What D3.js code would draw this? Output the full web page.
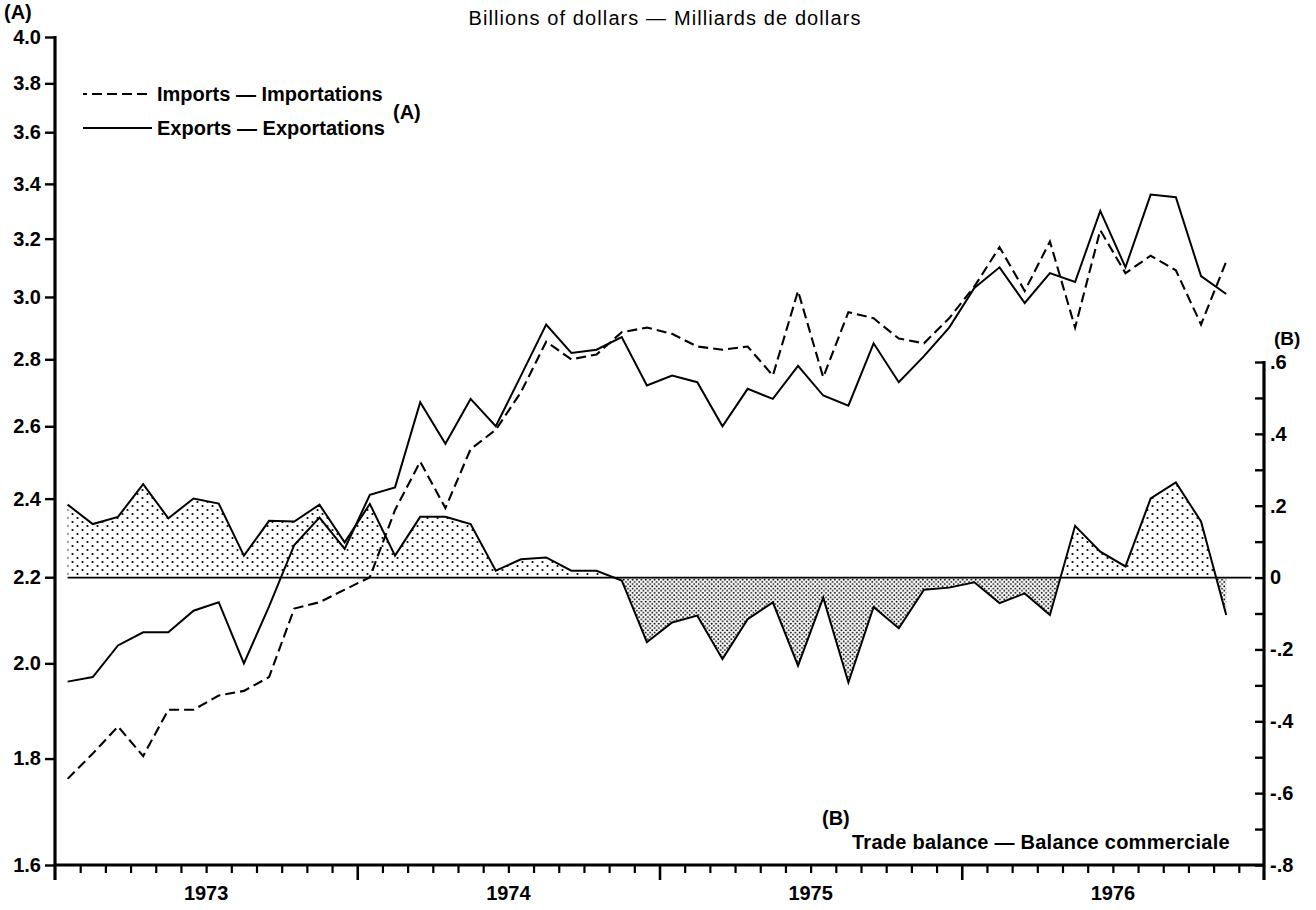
<!DOCTYPE html>
<html><head><meta charset="utf-8">
<script src="https://cdn.jsdelivr.net/npm/d3@7/dist/d3.min.js"></script>
<style>
body{margin:0;background:#fff}
text{font-family:"Liberation Sans",Arial,Helvetica,sans-serif;fill:#000}
</style>
</head><body>
<svg id="c" width="1316" height="910"></svg>
<script>
// ---- categories (months) ----
const months = [
 "1973-01","1973-02","1973-03","1973-04","1973-05","1973-06","1973-07","1973-08","1973-09","1973-10","1973-11","1973-12",
 "1974-01","1974-02","1974-03","1974-04","1974-05","1974-06","1974-07","1974-08","1974-09","1974-10","1974-11","1974-12",
 "1975-01","1975-02","1975-03","1975-04","1975-05","1975-06","1975-07","1975-08","1975-09","1975-10","1975-11","1975-12",
 "1976-01","1976-02","1976-03","1976-04","1976-05","1976-06","1976-07","1976-08","1976-09","1976-10","1976-11","1976-12"];
const yearLabels = ["1973","1974","1975","1976"];

// ---- series (billions of dollars), Jan 1973 .. Nov 1976 ----
const exportsA = [1.96,1.97,2.04,2.07,2.07,2.12,2.14,2.00,2.13,2.28,2.35,2.27,
                  2.41,2.43,2.67,2.55,2.68,2.60,2.75,2.91,2.82,2.83,2.87,2.72,
                  2.75,2.73,2.60,2.71,2.68,2.78,2.69,2.66,2.85,2.73,2.81,2.90,
                  3.03,3.10,2.98,3.08,3.05,3.30,3.10,3.36,3.35,3.07,3.01];
const importsA = [1.76,1.81,1.865,1.805,1.90,1.90,1.93,1.94,1.97,2.125,2.14,2.17,
                  2.20,2.37,2.50,2.375,2.535,2.59,2.70,2.855,2.80,2.815,2.885,2.90,
                  2.88,2.84,2.83,2.84,2.75,3.02,2.745,2.95,2.93,2.865,2.85,2.93,
                  3.035,3.17,3.02,3.19,2.90,3.23,3.08,3.14,3.09,2.91,3.12];
const balanceB = [0.203,0.149,0.169,0.260,0.165,0.220,0.206,0.061,0.158,0.156,0.203,0.098,
                  0.205,0.061,0.169,0.169,0.149,0.019,0.051,0.056,0.019,0.019,-0.008,-0.180,
                  -0.125,-0.106,-0.227,-0.116,-0.069,-0.245,-0.056,-0.292,-0.082,-0.141,-0.034,-0.028,
                  -0.013,-0.071,-0.044,-0.104,0.144,0.072,0.031,0.220,0.265,0.156,-0.104];

// ---- tick values / labels ----
const leftTicks = [1.6,1.8,2.0,2.2,2.4,2.6,2.8,3.0,3.2,3.4,3.6,3.8,4.0];
const rightTicks = [-0.8,-0.7,-0.6,-0.5,-0.4,-0.3,-0.2,-0.1,0,0.1,0.2,0.3,0.4,0.5,0.6];
const rightLabelVals = [-0.8,-0.6,-0.4,-0.2,0,0.2,0.4,0.6];
const rightLabels = ["-.8","-.6","-.4","-.2","0",".2",".4",".6"];

const svg = d3.select("#c");
svg.append("rect").attr("width",1316).attr("height",910).attr("fill","#fff");

const L = 55, R = 1264, B = 865;
const xBand = d3.scaleBand().domain(months).range([L, R]).padding(0);
const xIdx = d3.scaleLinear().domain([0, months.length]).range([L, R]);
const bw = xBand.bandwidth();
const xm = i => xBand(months[i]) + bw/2;
const yA = d3.scaleLog().domain([1.6, 4.0]).range([B, 37]);
const yB = d3.scaleLinear().domain([-0.8, 0.6]).range([B, 362]);

// patterns
const defs = svg.append("defs");
const pPos = defs.append("pattern").attr("id","pos").attr("patternUnits","userSpaceOnUse")
  .attr("width",10).attr("height",8);
pPos.append("circle").attr("cx",2.5).attr("cy",2).attr("r",1.1).attr("fill","#000");
pPos.append("circle").attr("cx",7.5).attr("cy",6).attr("r",1.1).attr("fill","#000");
const pNeg = defs.append("pattern").attr("id","neg").attr("patternUnits","userSpaceOnUse")
  .attr("width",4.4).attr("height",4.4);
pNeg.append("circle").attr("cx",1.1).attr("cy",1.1).attr("r",0.95).attr("fill","#000");
pNeg.append("circle").attr("cx",3.3).attr("cy",3.3).attr("r",0.95).attr("fill","#000");
defs.append("clipPath").attr("id","clipPos").append("rect")
  .attr("x",0).attr("y",0).attr("width",1316).attr("height",yB(0));
defs.append("clipPath").attr("id","clipNeg").append("rect")
  .attr("x",0).attr("y",yB(0)).attr("width",1316).attr("height",910-yB(0));

// balance area
const area = d3.area().x((d,i)=>xm(i)).y0(yB(0)).y1(d=>yB(d));
svg.append("path").datum(balanceB).attr("d",area).attr("fill","url(#pos)").attr("clip-path","url(#clipPos)");
svg.append("path").datum(balanceB).attr("d",area).attr("fill","url(#neg)").attr("clip-path","url(#clipNeg)");

// zero line
svg.append("line").attr("x1",xm(0)).attr("x2",xm(months.length-1))
  .attr("y1",yB(0)).attr("y2",yB(0)).attr("stroke","#000").attr("stroke-width",1.8);

// balance line
const lineB = d3.line().x((d,i)=>xm(i)).y(d=>yB(d));
svg.append("path").datum(balanceB).attr("d",lineB).attr("fill","none")
  .attr("stroke","#000").attr("stroke-width",2);

// exports / imports lines
const lineA = d3.line().x((d,i)=>xm(i)).y(d=>yA(d));
svg.append("path").datum(exportsA).attr("d",lineA).attr("fill","none")
  .attr("stroke","#000").attr("stroke-width",2);
svg.append("path").datum(importsA).attr("d",lineA).attr("fill","none")
  .attr("stroke","#000").attr("stroke-width",2.1).attr("stroke-dasharray","10,5");

// left axis
const gL = svg.append("g").attr("transform",`translate(${L},0)`)
  .call(d3.axisLeft(yA).tickValues(leftTicks).tickFormat(d3.format(".1f")).tickSize(10).tickPadding(4));
gL.select(".domain").remove();
gL.selectAll(".tick line").attr("stroke","#000").attr("stroke-width",2.4);
gL.selectAll(".tick text").style("font-size","20px").style("font-weight","bold").attr("fill","#000");
svg.append("line").attr("x1",L).attr("x2",L).attr("y1",yA(4.0)-1).attr("y2",B+15)
  .attr("stroke","#000").attr("stroke-width",3.2);

// right axis
const gR = svg.append("g").attr("transform",`translate(${R},0)`)
  .call(d3.axisRight(yB).tickValues(rightTicks).tickSizeInner(-9).tickSizeOuter(0).tickPadding(6)
    .tickFormat(d=>{const k=rightLabelVals.findIndex(v=>Math.abs(v-d)<1e-6);return k>=0?rightLabels[k]:"";}));
gR.select(".domain").remove();
gR.selectAll(".tick line").attr("stroke","#000").attr("stroke-width",2.4);
gR.selectAll(".tick text").style("font-size","20px").style("font-weight","bold").attr("fill","#000");
svg.append("line").attr("x1",R).attr("x2",R).attr("y1",yB(0.6)-1).attr("y2",B+15)
  .attr("stroke","#000").attr("stroke-width",3.2);

// bottom axis: month ticks and year ticks
const monthTicks = d3.range(1, months.length).filter(i=>i%12!==0);
const yearTicks = d3.range(12, months.length, 12);
const gB1 = svg.append("g").attr("transform",`translate(0,${B})`)
  .call(d3.axisBottom(xIdx).tickValues(monthTicks).tickFormat("").tickSize(8).tickSizeOuter(0));
gB1.select(".domain").remove();
gB1.selectAll(".tick line").attr("stroke","#000").attr("stroke-width",2.2);
const gB2 = svg.append("g").attr("transform",`translate(0,${B})`)
  .call(d3.axisBottom(xIdx).tickValues(yearTicks).tickFormat("").tickSize(15).tickSizeOuter(0));
gB2.select(".domain").remove();
gB2.selectAll(".tick line").attr("stroke","#000").attr("stroke-width",2.6);
svg.append("line").attr("x1",L).attr("x2",R).attr("y1",B).attr("y2",B)
  .attr("stroke","#000").attr("stroke-width",2.8);
svg.append("g").selectAll("text").data(yearLabels).join("text")
  .attr("x",(d,i)=>xIdx(i*12+6)).attr("y",900).attr("text-anchor","middle")
  .style("font-size","20px").style("font-weight","bold").text(d=>d);

// titles and labels
svg.append("text").attr("x",665).attr("y",25).attr("text-anchor","middle")
  .style("font-size","20px").style("letter-spacing","1.1px").text("Billions of dollars — Milliards de dollars");
svg.append("text").attr("x",4).attr("y",19).style("font-size","20px").style("font-weight","bold").text("(A)");
svg.append("text").attr("x",1274).attr("y",345).style("font-size","19px").style("font-weight","bold").text("(B)");

// legend
const legY = [94, 128];
svg.append("line").attr("x1",83).attr("x2",152).attr("y1",legY[0]).attr("y2",legY[0])
  .attr("stroke","#000").attr("stroke-width",2.1).attr("stroke-dasharray","10,5").attr("stroke-dashoffset",6);
svg.append("line").attr("x1",83).attr("x2",152).attr("y1",legY[1]).attr("y2",legY[1])
  .attr("stroke","#000").attr("stroke-width",2.1);
svg.append("text").attr("x",157).attr("y",legY[0]+7).style("font-size","20px").style("font-weight","bold")
  .text("Imports — Importations");
svg.append("text").attr("x",157).attr("y",legY[1]+7).style("font-size","20px").style("font-weight","bold")
  .text("Exports — Exportations");
svg.append("text").attr("x",393).attr("y",119).style("font-size","20px").style("font-weight","bold").text("(A)");

svg.append("text").attr("x",822).attr("y",825).style("font-size","20px").style("font-weight","bold").text("(B)");
svg.append("text").attr("x",852).attr("y",849).style("font-size","20px").style("font-weight","bold")
  .style("letter-spacing","0.25px").text("Trade balance — Balance commerciale");
</script>
</body></html>
